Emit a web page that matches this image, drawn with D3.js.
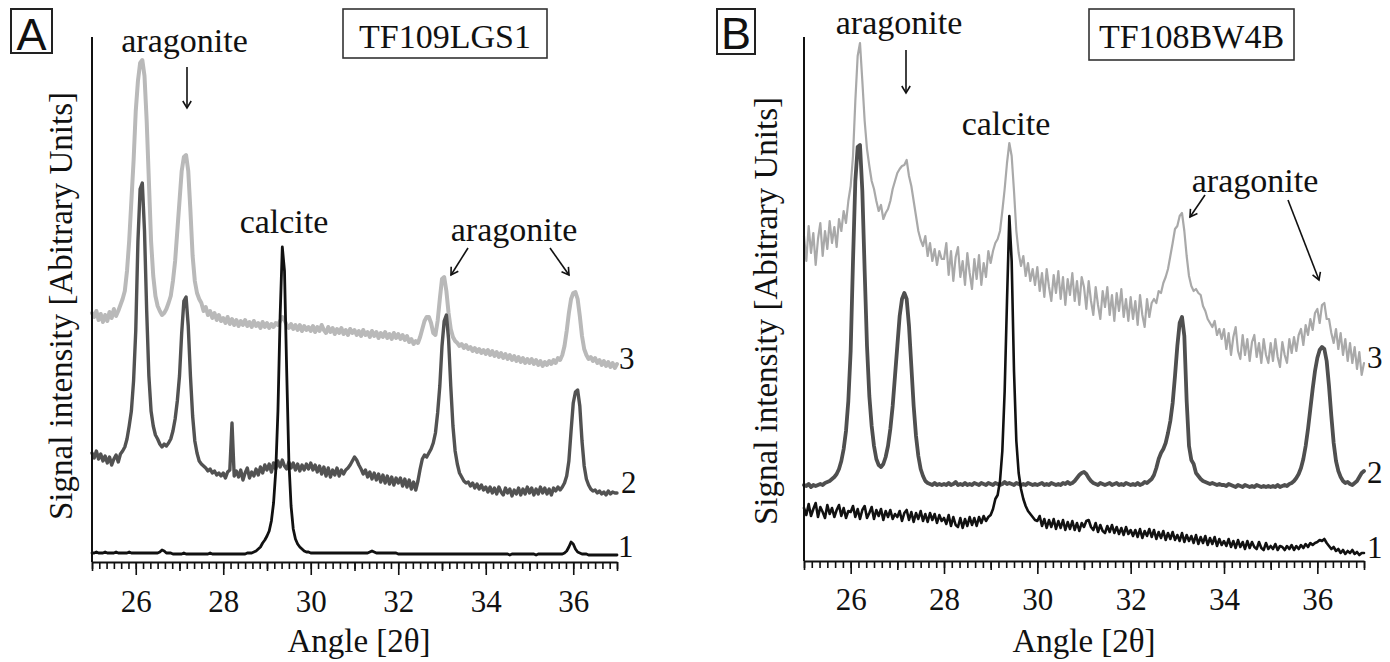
<!DOCTYPE html>
<html><head><meta charset="utf-8">
<script src="https://cdn.jsdelivr.net/npm/d3@7"></script>
<style>
body{margin:0;background:#fff}
svg{display:block;background:#fff}
text{font-family:"Liberation Serif","Times New Roman",serif;fill:#111}
</style>
</head><body>
<svg id="chart" width="1390" height="662"></svg>
<script>
// ---------- DATA ----------
// scan angle grid (2θ, degrees), one sample every 0.05°
const angleGrid = d3.range(241).map(i => Math.round((25 + i * 0.05) * 100) / 100);
const xTickLabels = [26, 28, 30, 32, 34, 36];
const oddTicks = [25, 27, 29, 31, 33, 35, 37];
const minorTicks = d3.range(73).map(i => 25 + i / 6);
const traceNames = ["3", "2", "1"];
const sampleA = "TF109LGS1";
const sampleB = "TF108BW4B";

// Panel A intensities (arbitrary units, offset traces as drawn)
const A_trace1 = [
 8,8,9,8,8,8,9,8,8,8,8,9,8,8,8,8,8,9,8,8,
 8,8,8,8,8,8,8,8,8,8,8,9,11,10,8,8,8,7,7,7,
 7,7,8,7,7,7,7,7,7,7,7,7,7,7,8,7,7,7,7,7,
 7,7,7,7,7,7,7,7,7,7,7,8,8,8,9,10,12,14,18,21,
 25,30,40,58,90,150,245,314,290,190,100,55,32,22,17,14,12,10,9,9,
 8,8,8,8,8,8,8,8,8,8,8,8,8,8,8,8,8,8,8,8,
 8,8,8,8,8,8,8,9,10,9,8,8,8,8,8,8,8,8,8,8,
 7,7,7,7,7,7,7,7,7,7,7,7,7,7,7,7,7,7,7,7,
 7,7,7,7,7,7,7,7,7,7,7,7,7,7,7,7,7,7,7,7,
 7,7,7,7,7,7,7,7,7,7,7,6,7,7,7,7,7,7,7,7,
 7,7,7,6,7,7,7,7,7,7,7,7,7,7,7,7,8,10,14,19,
 17,12,9,8,7,7,7,6,6,6,6,6,6,6,6,6,6,6,6,6,
 6];
const A_trace2 = [
 108,103,110,102,107,100,105,98,104,96,102,106,99,107,110,114,122,135,150,180,
 230,320,372,378,330,250,185,150,135,126,122,117,114,117,115,118,122,130,142,160,
 185,228,260,264,235,185,145,120,108,100,97,95,93,90,92,88,90,86,88,85,
 88,83,89,91,138,85,90,84,91,81,88,93,83,89,85,92,86,94,88,96,
 91,97,89,98,92,100,94,101,95,92,99,93,98,91,97,90,96,91,97,92,
 98,91,96,89,95,87,94,85,93,84,91,86,93,85,91,87,91,93,96,100,
 104,101,96,92,87,91,84,89,82,88,81,87,79,86,78,85,77,84,76,83,
 78,83,75,82,74,81,72,79,71,80,92,102,106,104,108,112,118,128,148,175,
 215,240,246,222,175,135,110,97,88,84,80,78,79,75,78,73,77,72,76,71,
 74,69,74,68,73,67,74,69,66,73,68,72,65,71,67,73,66,72,67,74,
 68,73,66,72,67,74,68,73,67,72,66,73,70,74,71,74,78,85,100,130,
 158,169,171,155,120,95,82,76,72,70,71,68,70,67,69,66,70,67,69,68,
 68];
const A_trace3 = [
 248,244,250,241,247,239,246,240,249,243,252,245,250,256,262,270,290,320,360,400,
 450,480,498,501,485,440,380,320,285,265,255,250,246,248,252,258,265,280,300,330,
 360,390,404,406,390,350,305,280,268,262,258,250,254,246,250,243,248,241,246,240,
 243,238,244,237,242,236,241,235,240,236,241,235,239,234,240,235,238,233,239,234,
 238,233,237,234,238,236,240,244,241,236,233,237,232,236,231,236,230,235,231,234,
 230,235,229,234,230,236,231,228,234,229,233,227,232,228,233,227,231,226,232,228,
 231,226,230,225,231,226,229,224,230,225,229,223,228,224,229,223,227,222,228,223,
 227,222,226,221,225,219,222,217,220,218,224,232,240,244,244,238,228,226,240,262,
 282,284,270,248,232,224,220,218,215,217,213,216,212,214,210,213,209,212,208,211,
 207,211,206,210,205,209,204,208,203,207,202,206,201,205,200,204,199,203,198,202,
 198,202,197,201,196,200,195,199,196,200,197,201,198,203,201,206,215,230,248,262,
 268,269,262,245,225,212,206,202,204,200,203,198,201,196,200,195,199,194,198,193,
 197];

// Panel B intensities
const B_trace1 = [
 53,46,57,45,52,58,44,54,49,43,56,47,53,44,51,56,45,53,43,50,
 49,55,44,52,42,51,55,43,48,54,42,51,45,52,41,50,44,51,42,47,
 44,50,40,48,51,41,49,39,48,42,50,40,47,39,48,41,47,38,46,40,
 43,37,46,35,44,36,34,43,33,42,35,44,36,43,35,44,38,45,40,44,
 46,52,62,66,80,110,170,260,345,300,190,120,88,72,62,55,50,47,44,41,
 40,45,35,42,33,41,34,42,32,40,33,41,31,39,32,40,31,38,30,38,
 34,40,41,34,31,38,29,36,30,28,35,29,36,28,34,27,33,26,34,27,
 31,25,31,24,32,23,30,25,32,24,31,22,29,23,30,21,28,22,29,21,
 26,20,28,19,26,20,25,18,26,17,24,18,25,16,23,17,24,15,22,16,
 20,15,22,14,20,13,21,14,19,12,20,13,19,14,12,19,13,11,18,12,
 15,12,17,11,15,14,11,15,12,16,11,15,12,16,13,17,14,18,16,18,
 19,21,20,22,18,15,12,14,10,12,8,11,7,10,8,11,7,9,6,8,
 8];
const B_trace2 = [
 76,75,77,74,76,75,76,77,76,78,79,80,82,84,87,92,100,112,130,160,
 210,300,380,414,416,370,290,215,165,135,115,102,96,94,97,104,115,132,155,185,
 215,245,262,268,262,235,195,155,125,105,92,85,80,78,77,76,78,76,77,76,
 77,76,78,76,77,79,76,77,76,78,76,77,76,78,77,76,78,77,76,78,
 77,76,78,77,76,77,79,77,78,77,76,78,77,76,77,76,78,77,76,77,
 76,77,78,76,77,76,78,77,76,77,76,78,77,79,77,78,80,83,86,88,
 89,87,83,80,78,77,76,78,77,76,77,78,76,77,78,76,77,76,78,77,
 76,77,76,78,76,77,79,78,80,82,86,93,102,108,112,118,128,140,158,185,
 215,238,244,225,160,115,101,97,88,85,82,80,79,78,77,78,77,76,77,76,
 76,75,77,76,75,74,76,75,74,76,75,74,75,74,76,75,74,75,74,75,
 74,75,74,76,74,75,76,75,77,78,80,83,87,93,102,115,132,152,172,190,
 203,211,214,212,200,175,145,118,100,90,84,80,78,79,77,76,78,80,84,88,
 90];
const B_trace3 = [
 325,300,335,308,328,296,322,338,305,330,312,340,318,334,314,342,330,350,338,360,
 375,405,460,505,518,480,440,412,395,380,372,360,350,356,342,348,352,360,372,380,
 388,392,395,396,401,385,375,360,345,330,321,315,325,305,318,300,312,296,310,302,
 302,318,286,310,280,304,314,284,300,276,308,288,272,302,282,306,276,298,284,310,
 298,310,318,322,330,350,372,398,418,405,370,330,308,295,305,285,298,280,292,276,
 294,270,288,264,292,274,260,286,268,290,262,284,256,282,266,288,260,280,256,284,
 274,252,280,260,246,274,256,242,270,254,274,246,266,240,268,250,272,244,262,240,
 264,242,260,236,266,246,234,262,244,258,262,258,270,268,278,284,292,305,318,332,
 335,345,348,330,305,285,275,270,272,268,266,255,250,242,238,234,240,226,232,222,
 232,212,228,206,224,234,210,202,226,206,222,200,219,226,204,218,198,222,206,198,
 218,200,222,204,194,219,206,198,222,208,224,210,226,232,216,236,226,242,231,248,
 252,238,256,258,242,242,228,218,232,212,228,206,222,200,218,198,214,192,209,186,
 198];

// ---------- LAYOUT / STYLE ----------
const SERIF = '"Liberation Serif", "Times New Roman", Times, serif';
const SANS = '"Liberation Sans", Arial, Helvetica, sans-serif';
const svg = d3.select("#chart");
const defs = svg.append("defs");
defs.append("marker").attr("id", "ah")
  .attr("viewBox", "-10 -6 12 12").attr("refX", 0).attr("refY", 0)
  .attr("markerWidth", 12).attr("markerHeight", 12)
  .attr("markerUnits", "userSpaceOnUse").attr("orient", "auto")
  .append("path").attr("d", "M-7,-4.2 L0,0 L-7,4.2")
  .attr("fill", "none").attr("stroke", "#111").attr("stroke-width", 1.6);

const panels = [
  {
    letter: "A", letterBox: [11, 9, 41, 44], letterPos: [31.5, 50],
    sample: sampleA, sampleBox: [343, 9, 204, 49], samplePos: [445, 48],
    xRange: [92, 617], axisY: 562, yTop: 37, tickLabelY: 50,
    yLabelPos: [72, 306], xLabelPos: [359, 652],
    traces: [
      {values: A_trace3, color: "#b9b9b9", width: 4},
      {values: A_trace2, color: "#525252", width: 3.4},
      {values: A_trace1, color: "#111", width: 2.8}
    ],
    numLabels: [[619, 369], [621, 493], [618, 557]],
    texts: [["aragonite", 184.5, 52], ["calcite", 284, 233], ["aragonite", 514, 241]],
    arrows: [[187, 67, 187, 108], [468, 248, 451, 275], [550, 248, 569, 275]]
  },
  {
    letter: "B", letterBox: [717, 9, 38, 45], letterPos: [736, 49],
    sample: sampleB, sampleBox: [1089, 9, 205, 51], samplePos: [1191.5, 48],
    xRange: [804, 1364], axisY: 561, yTop: 37, tickLabelY: 49,
    yLabelPos: [777, 311], xLabelPos: [1084, 652],
    traces: [
      {values: B_trace3, color: "#a9a9a9", width: 2.2},
      {values: B_trace2, color: "#4f4f4f", width: 3.8},
      {values: B_trace1, color: "#111", width: 2.6}
    ],
    numLabels: [[1367, 368], [1367, 483], [1367, 558]],
    texts: [["aragonite", 899, 34], ["calcite", 1006, 135], ["aragonite", 1255, 192]],
    arrows: [[906, 50, 906, 93], [1205, 195, 1190, 217], [1288, 200, 1319, 280]]
  }
];

panels.forEach(p => {
  const x = d3.scaleLinear().domain([25, 37]).range(p.xRange);
  const y = d3.scaleLinear().domain([0, 524]).range([561, 37]);
  const g = svg.append("g");

  // traces
  const line = d3.line().x((d, i) => x(angleGrid[i])).y(d => y(d));
  p.traces.forEach(t => {
    g.append("path").datum(t.values)
      .attr("d", line).attr("fill", "none")
      .attr("stroke", t.color).attr("stroke-width", t.width)
      .attr("stroke-linejoin", "round").attr("stroke-linecap", "round");
  });

  // y axis (line only)
  g.append("line").attr("x1", p.xRange[0]).attr("x2", p.xRange[0])
    .attr("y1", p.yTop).attr("y2", p.axisY)
    .attr("stroke", "#111").attr("stroke-width", 2);

  // x axis: minor, medium, major ticks
  const minorAxis = d3.axisBottom(x).tickValues(minorTicks).tickSize(7).tickFormat("").tickSizeOuter(0);
  const midAxis = d3.axisBottom(x).tickValues(oddTicks).tickSize(9).tickFormat("").tickSizeOuter(0);
  const majorAxis = d3.axisBottom(x).tickValues(xTickLabels).tickSize(13).tickFormat(d3.format("d")).tickSizeOuter(0);
  [minorAxis, midAxis, majorAxis].forEach((ax, k) => {
    const ag = g.append("g").attr("transform", `translate(0,${p.axisY})`).call(ax)
      .attr("font-family", SERIF).attr("font-size", 31);
    ag.selectAll(".tick line").attr("stroke", "#111").attr("stroke-width", 1.6);
    ag.select(".domain").attr("stroke", k === 2 ? "#111" : "none").attr("stroke-width", 2.2);
    ag.selectAll("text").attr("y", p.tickLabelY).attr("dy", 0)
      .attr("font-family", SERIF).attr("font-size", 31).attr("fill", "#111");
  });

  // axis titles
  g.append("text").attr("transform", `translate(${p.yLabelPos[0]},${p.yLabelPos[1]}) rotate(-90)`)
    .attr("text-anchor", "middle").attr("font-family", SERIF).attr("font-size", 33)
    .text("Signal intensity [Abitrary Units]");
  g.append("text").attr("x", p.xLabelPos[0]).attr("y", p.xLabelPos[1])
    .attr("text-anchor", "middle").attr("font-family", SERIF).attr("font-size", 33).text("Angle [2θ]");

  // panel letter box
  g.append("rect").attr("x", p.letterBox[0]).attr("y", p.letterBox[1])
    .attr("width", p.letterBox[2]).attr("height", p.letterBox[3])
    .attr("fill", "none").attr("stroke", "#222").attr("stroke-width", 2);
  g.append("text").attr("x", p.letterPos[0]).attr("y", p.letterPos[1])
    .attr("text-anchor", "middle").attr("font-family", SANS)
    .attr("font-size", 45).style("font-family", SANS).text(p.letter);

  // sample box
  g.append("rect").attr("x", p.sampleBox[0]).attr("y", p.sampleBox[1])
    .attr("width", p.sampleBox[2]).attr("height", p.sampleBox[3])
    .attr("fill", "none").attr("stroke", "#333").attr("stroke-width", 1.6);
  g.append("text").attr("x", p.samplePos[0]).attr("y", p.samplePos[1])
    .attr("text-anchor", "middle").attr("font-family", SERIF).attr("font-size", 34).text(p.sample);

  // annotations
  p.texts.forEach(t => {
    g.append("text").attr("x", t[1]).attr("y", t[2]).attr("text-anchor", "middle")
      .attr("font-family", SERIF).attr("font-size", 34).text(t[0]);
  });
  p.arrows.forEach(a => {
    g.append("line").attr("x1", a[0]).attr("y1", a[1]).attr("x2", a[2]).attr("y2", a[3])
      .attr("stroke", "#111").attr("stroke-width", 1.6).attr("marker-end", "url(#ah)");
  });

  // trace numbers (top to bottom: 3, 2, 1)
  p.numLabels.forEach((n, i) => {
    g.append("text").attr("x", n[0]).attr("y", n[1])
      .attr("font-family", SERIF).attr("font-size", 31).text(traceNames[i]);
  });
});
</script>
</body></html>
